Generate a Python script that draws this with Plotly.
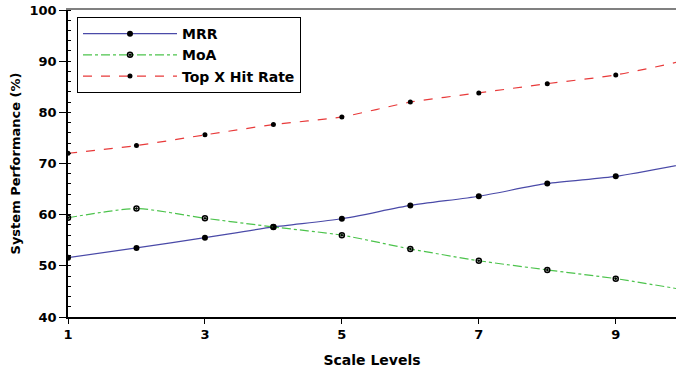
import plotly.graph_objects as go

scale_levels = [1, 2, 3, 4, 5, 6, 7, 8, 9, 10]
mrr = [51.6, 53.5, 55.5, 57.6, 59.2, 61.8, 63.6, 66.1, 67.5, 69.9]
moa = [59.4, 61.2, 59.3, 57.6, 56.0, 53.3, 51.0, 49.2, 47.5, 45.3]
top_x = [72.0, 73.5, 75.6, 77.6, 79.1, 82.0, 83.8, 85.6, 87.3, 90.1]

x_ticks = [1, 3, 5, 7, 9]
y_ticks = [40, 50, 60, 70, 80, 90, 100]

fig = go.Figure()
fig.add_trace(go.Scatter(
    x=scale_levels, y=mrr, name="MRR", mode="lines+markers",
    line=dict(color="#4a4aa8", width=1.2, shape="spline", smoothing=0.6),
    marker=dict(symbol="circle", size=6, color="black"),
))
fig.add_trace(go.Scatter(
    x=scale_levels, y=moa, name="MoA", mode="lines+markers",
    line=dict(color="#4cc34c", width=1.2, dash="dashdot", shape="spline", smoothing=0.6),
    marker=dict(symbol="circle-open-dot", size=5, color="black", line=dict(width=1.5)),
))
fig.add_trace(go.Scatter(
    x=scale_levels, y=top_x, name="Top X Hit Rate", mode="lines+markers",
    line=dict(color="#e83a3a", width=1.2, dash="dash", shape="spline", smoothing=0.6),
    marker=dict(symbol="circle", size=5, color="black"),
))

fam = "DejaVu Sans"
fig.update_layout(
    width=676, height=370,
    margin=dict(l=68, r=0, t=10, b=53),
    paper_bgcolor="white", plot_bgcolor="white",
    font=dict(family=fam, color="black", size=13),
    showlegend=True,
    legend=dict(
        x=0.0148, y=0.977, xanchor="left", yanchor="top",
        bordercolor="black", borderwidth=1, bgcolor="white",
        font=dict(family=fam, size=14, color="black", weight="bold"),
        itemwidth=94, tracegroupgap=0,
    ),
    xaxis=dict(
        range=[1, 9.88], tickvals=x_ticks, ticktext=[str(v) for v in x_ticks],
        showgrid=False, zeroline=False, automargin=False,
        showline=True, linecolor="black", linewidth=1.5,
        ticks="outside", ticklen=5, tickcolor="black",
        tickfont=dict(family=fam, size=13, weight="bold"),
        ticklabeloverflow="allow",
        title=dict(text="Scale Levels", font=dict(family=fam, size=14, weight="bold"), standoff=14),
    ),
    yaxis=dict(
        range=[40, 100], tickvals=y_ticks, ticktext=[str(v) for v in y_ticks],
        showgrid=False, zeroline=False, automargin=False,
        showline=True, linecolor="black", linewidth=1.5,
        ticks="outside", ticklen=7, tickcolor="black",
        tickfont=dict(family=fam, size=13, weight="bold"),
        ticklabeloverflow="allow",
        minor=dict(dtick=2, ticks="inside", ticklen=3, tickcolor="black"),
        title=dict(text="System Performance (%)", font=dict(family=fam, size=13, weight="bold"), standoff=6),
    ),
    xaxis2=dict(
        overlaying="x", side="top", range=[1, 9.88], showticklabels=False, automargin=False,
        showline=True, linecolor="#808080", linewidth=1.5, ticks="", showgrid=False, zeroline=False,
    ),
)
fig.add_trace(go.Scatter(x=[], y=[], xaxis="x2", showlegend=False, hoverinfo="skip"))

fig.write_html(
    "out.html",
    config={"displayModeBar": False},
    post_script="document.body.style.margin='0';document.body.style.overflow='hidden';",
)
